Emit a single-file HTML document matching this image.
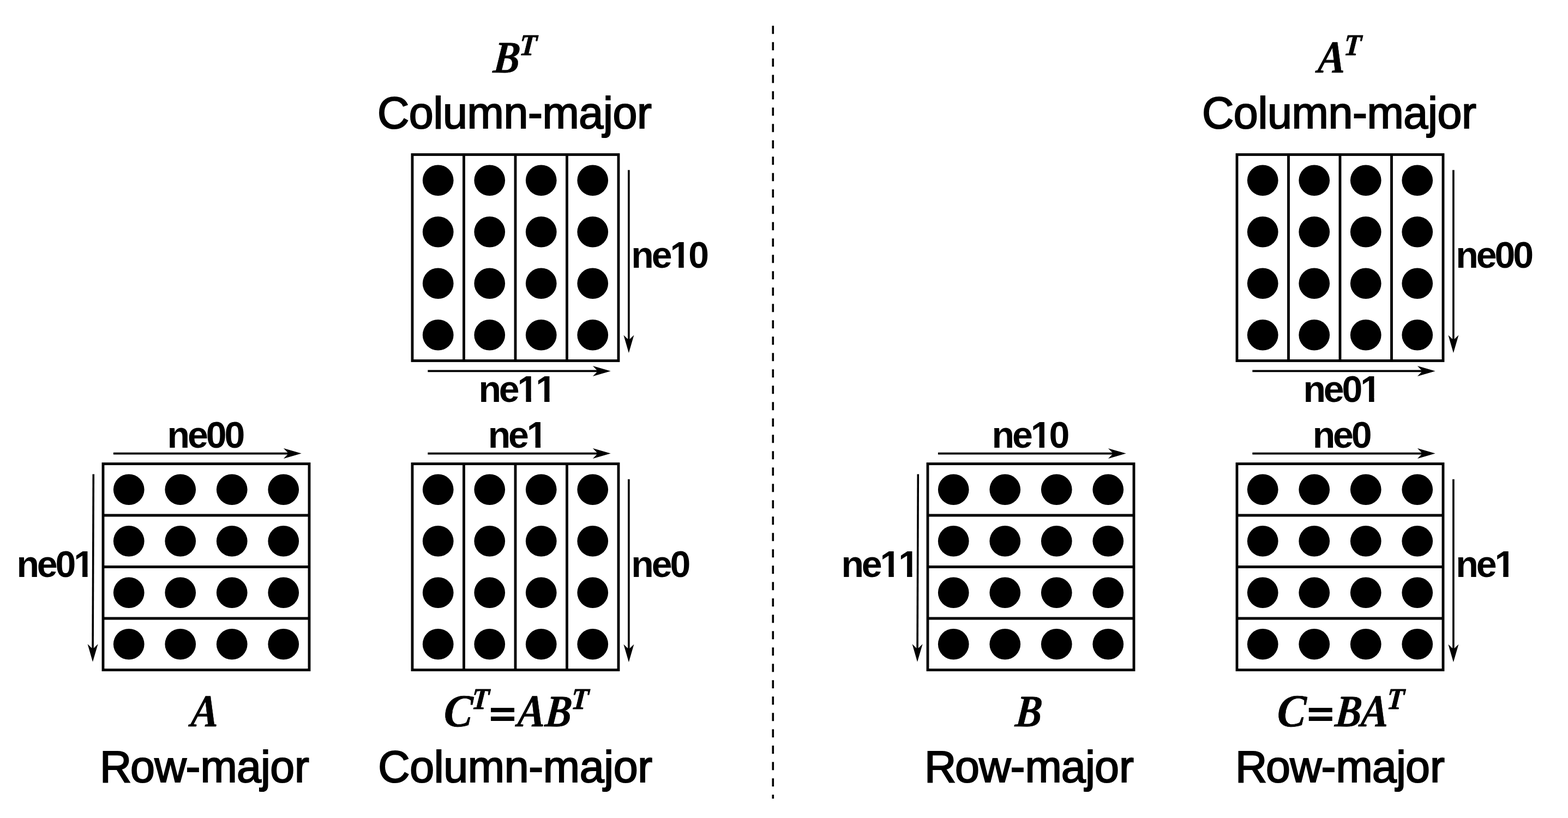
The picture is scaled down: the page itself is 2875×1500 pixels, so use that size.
<!DOCTYPE html>
<html lang="en">
<head>
<meta charset="utf-8">
<title>Matrix layout: row-major and column-major</title>
<style>
html,body{margin:0;padding:0;background:#fff}
body{width:2875px;height:1500px;overflow:hidden}
svg{display:block}
text{fill:#000}
.b{font-family:"Liberation Sans","DejaVu Sans",sans-serif;font-weight:700;font-kerning:none;font-size:68px;letter-spacing:-4.1px}
.r{font-family:"Liberation Sans","DejaVu Sans",sans-serif;font-weight:400;font-size:80.8px;letter-spacing:-0.4px;stroke:#000;stroke-width:2.1px;stroke-linejoin:miter}
.m text{font-family:"Liberation Serif","DejaVu Serif",serif;font-style:italic;font-weight:700;stroke-linejoin:round}
.m .eq{font-family:"DejaVu Sans","Liberation Sans",sans-serif;font-style:normal;font-weight:700;font-size:68.7px}
</style>
</head>
<body>
<svg width="2875" height="1500" viewBox="0 0 2875 1500">
<rect width="2875" height="1500" fill="#fff"/>
<g><text class="b" x="1157.31" y="491">ne10</text><text class="b" x="877.41" y="737">ne11</text><text class="b" x="2669.31" y="491">ne00</text><text class="b" x="2389.41" y="737">ne01</text><text class="b" x="306.61" y="821">ne00</text><text class="b" x="30.41" y="1058">ne01</text><text class="b" x="1818.61" y="821">ne10</text><text class="b" x="1542.41" y="1058">ne11</text><text class="b" x="894.66" y="821">ne1</text><text class="b" x="1157.31" y="1058">ne0</text><text class="b" x="2406.66" y="821">ne0</text><text class="b" x="2669.31" y="1058">ne1</text></g>
<g fill="#fff"><rect x="1231.19" y="483.36" width="13.1" height="8.54"/><rect x="1253.72" y="483.36" width="11.9" height="8.54"/><rect x="951.29" y="729.36" width="13.1" height="8.54"/><rect x="973.82" y="729.36" width="11.9" height="8.54"/><rect x="985.01" y="729.36" width="13.1" height="8.54"/><rect x="1007.54" y="729.36" width="11.9" height="8.54"/><rect x="2497.01" y="729.36" width="13.1" height="8.54"/><rect x="2519.54" y="729.36" width="11.9" height="8.54"/><rect x="138.01" y="1050.36" width="13.1" height="8.54"/><rect x="160.54" y="1050.36" width="11.9" height="8.54"/><rect x="1892.49" y="813.36" width="13.1" height="8.54"/><rect x="1915.02" y="813.36" width="11.9" height="8.54"/><rect x="1616.29" y="1050.36" width="13.1" height="8.54"/><rect x="1638.82" y="1050.36" width="11.9" height="8.54"/><rect x="1650.01" y="1050.36" width="13.1" height="8.54"/><rect x="1672.54" y="1050.36" width="11.9" height="8.54"/><rect x="968.54" y="813.36" width="13.1" height="8.54"/><rect x="991.07" y="813.36" width="11.9" height="8.54"/><rect x="2743.19" y="1050.36" width="13.1" height="8.54"/><rect x="2765.72" y="1050.36" width="11.9" height="8.54"/></g>
<path d="M1417.3 47.2V1464.6" stroke="#000" stroke-width="3.6" stroke-dasharray="15 15" fill="none"/>
<g><rect x="756" y="283.5" width="378" height="378" fill="none" stroke="#000" stroke-width="4.85"/><path d="M850.5 283.5V661.5M945 283.5V661.5M1039.5 283.5V661.5" fill="none" stroke="#000" stroke-width="4.85"/><circle cx="803.25" cy="330.75" r="28.35"/><circle cx="897.75" cy="330.75" r="28.35"/><circle cx="992.25" cy="330.75" r="28.35"/><circle cx="1086.75" cy="330.75" r="28.35"/><circle cx="803.25" cy="425.25" r="28.35"/><circle cx="897.75" cy="425.25" r="28.35"/><circle cx="992.25" cy="425.25" r="28.35"/><circle cx="1086.75" cy="425.25" r="28.35"/><circle cx="803.25" cy="519.75" r="28.35"/><circle cx="897.75" cy="519.75" r="28.35"/><circle cx="992.25" cy="519.75" r="28.35"/><circle cx="1086.75" cy="519.75" r="28.35"/><circle cx="803.25" cy="614.25" r="28.35"/><circle cx="897.75" cy="614.25" r="28.35"/><circle cx="992.25" cy="614.25" r="28.35"/><circle cx="1086.75" cy="614.25" r="28.35"/></g>
<g><rect x="189" y="850.5" width="378" height="378" fill="none" stroke="#000" stroke-width="4.85"/><path d="M189 945H567M189 1039.5H567M189 1134H567" fill="none" stroke="#000" stroke-width="4.85"/><circle cx="236.25" cy="897.75" r="28.35"/><circle cx="330.75" cy="897.75" r="28.35"/><circle cx="425.25" cy="897.75" r="28.35"/><circle cx="519.75" cy="897.75" r="28.35"/><circle cx="236.25" cy="992.25" r="28.35"/><circle cx="330.75" cy="992.25" r="28.35"/><circle cx="425.25" cy="992.25" r="28.35"/><circle cx="519.75" cy="992.25" r="28.35"/><circle cx="236.25" cy="1086.75" r="28.35"/><circle cx="330.75" cy="1086.75" r="28.35"/><circle cx="425.25" cy="1086.75" r="28.35"/><circle cx="519.75" cy="1086.75" r="28.35"/><circle cx="236.25" cy="1181.25" r="28.35"/><circle cx="330.75" cy="1181.25" r="28.35"/><circle cx="425.25" cy="1181.25" r="28.35"/><circle cx="519.75" cy="1181.25" r="28.35"/></g>
<g><rect x="756" y="850.5" width="378" height="378" fill="none" stroke="#000" stroke-width="4.85"/><path d="M850.5 850.5V1228.5M945 850.5V1228.5M1039.5 850.5V1228.5" fill="none" stroke="#000" stroke-width="4.85"/><circle cx="803.25" cy="897.75" r="28.35"/><circle cx="897.75" cy="897.75" r="28.35"/><circle cx="992.25" cy="897.75" r="28.35"/><circle cx="1086.75" cy="897.75" r="28.35"/><circle cx="803.25" cy="992.25" r="28.35"/><circle cx="897.75" cy="992.25" r="28.35"/><circle cx="992.25" cy="992.25" r="28.35"/><circle cx="1086.75" cy="992.25" r="28.35"/><circle cx="803.25" cy="1086.75" r="28.35"/><circle cx="897.75" cy="1086.75" r="28.35"/><circle cx="992.25" cy="1086.75" r="28.35"/><circle cx="1086.75" cy="1086.75" r="28.35"/><circle cx="803.25" cy="1181.25" r="28.35"/><circle cx="897.75" cy="1181.25" r="28.35"/><circle cx="992.25" cy="1181.25" r="28.35"/><circle cx="1086.75" cy="1181.25" r="28.35"/></g>
<g><rect x="2268" y="283.5" width="378" height="378" fill="none" stroke="#000" stroke-width="4.85"/><path d="M2362.5 283.5V661.5M2457 283.5V661.5M2551.5 283.5V661.5" fill="none" stroke="#000" stroke-width="4.85"/><circle cx="2315.25" cy="330.75" r="28.35"/><circle cx="2409.75" cy="330.75" r="28.35"/><circle cx="2504.25" cy="330.75" r="28.35"/><circle cx="2598.75" cy="330.75" r="28.35"/><circle cx="2315.25" cy="425.25" r="28.35"/><circle cx="2409.75" cy="425.25" r="28.35"/><circle cx="2504.25" cy="425.25" r="28.35"/><circle cx="2598.75" cy="425.25" r="28.35"/><circle cx="2315.25" cy="519.75" r="28.35"/><circle cx="2409.75" cy="519.75" r="28.35"/><circle cx="2504.25" cy="519.75" r="28.35"/><circle cx="2598.75" cy="519.75" r="28.35"/><circle cx="2315.25" cy="614.25" r="28.35"/><circle cx="2409.75" cy="614.25" r="28.35"/><circle cx="2504.25" cy="614.25" r="28.35"/><circle cx="2598.75" cy="614.25" r="28.35"/></g>
<g><rect x="1701" y="850.5" width="378" height="378" fill="none" stroke="#000" stroke-width="4.85"/><path d="M1701 945H2079M1701 1039.5H2079M1701 1134H2079" fill="none" stroke="#000" stroke-width="4.85"/><circle cx="1748.25" cy="897.75" r="28.35"/><circle cx="1842.75" cy="897.75" r="28.35"/><circle cx="1937.25" cy="897.75" r="28.35"/><circle cx="2031.75" cy="897.75" r="28.35"/><circle cx="1748.25" cy="992.25" r="28.35"/><circle cx="1842.75" cy="992.25" r="28.35"/><circle cx="1937.25" cy="992.25" r="28.35"/><circle cx="2031.75" cy="992.25" r="28.35"/><circle cx="1748.25" cy="1086.75" r="28.35"/><circle cx="1842.75" cy="1086.75" r="28.35"/><circle cx="1937.25" cy="1086.75" r="28.35"/><circle cx="2031.75" cy="1086.75" r="28.35"/><circle cx="1748.25" cy="1181.25" r="28.35"/><circle cx="1842.75" cy="1181.25" r="28.35"/><circle cx="1937.25" cy="1181.25" r="28.35"/><circle cx="2031.75" cy="1181.25" r="28.35"/></g>
<g><rect x="2268" y="850.5" width="378" height="378" fill="none" stroke="#000" stroke-width="4.85"/><path d="M2268 945H2646M2268 1039.5H2646M2268 1134H2646" fill="none" stroke="#000" stroke-width="4.85"/><circle cx="2315.25" cy="897.75" r="28.35"/><circle cx="2409.75" cy="897.75" r="28.35"/><circle cx="2504.25" cy="897.75" r="28.35"/><circle cx="2598.75" cy="897.75" r="28.35"/><circle cx="2315.25" cy="992.25" r="28.35"/><circle cx="2409.75" cy="992.25" r="28.35"/><circle cx="2504.25" cy="992.25" r="28.35"/><circle cx="2598.75" cy="992.25" r="28.35"/><circle cx="2315.25" cy="1086.75" r="28.35"/><circle cx="2409.75" cy="1086.75" r="28.35"/><circle cx="2504.25" cy="1086.75" r="28.35"/><circle cx="2598.75" cy="1086.75" r="28.35"/><circle cx="2315.25" cy="1181.25" r="28.35"/><circle cx="2409.75" cy="1181.25" r="28.35"/><circle cx="2504.25" cy="1181.25" r="28.35"/><circle cx="2598.75" cy="1181.25" r="28.35"/></g>
<path d="M1152.9 311.85L1152.9 624.58" stroke="#000" stroke-width="3.6" fill="none"/>
<path d="M1152.9 647.18L1143.4 614.38L1152.9 623.58L1162.4 614.38Z"/>
<path d="M784.35 680.4L1097.08 680.4" stroke="#000" stroke-width="3.6" fill="none"/>
<path d="M1119.68 680.4L1086.88 689.9L1096.08 680.4L1086.88 670.9Z"/>
<path d="M2664.9 311.85L2664.9 624.58" stroke="#000" stroke-width="3.6" fill="none"/>
<path d="M2664.9 647.18L2655.4 614.38L2664.9 623.58L2674.4 614.38Z"/>
<path d="M2296.35 680.4L2609.08 680.4" stroke="#000" stroke-width="3.6" fill="none"/>
<path d="M2631.68 680.4L2598.88 689.9L2608.08 680.4L2598.88 670.9Z"/>
<path d="M207.9 831.6L530.08 831.6" stroke="#000" stroke-width="3.6" fill="none"/>
<path d="M552.68 831.6L519.88 841.1L529.08 831.6L519.88 822.1Z"/>
<path d="M171.3 869.4L170.09 1191.13" stroke="#000" stroke-width="3.6" fill="none"/>
<path d="M170 1213.73L160.62 1180.89L170.09 1190.13L179.62 1180.97Z"/>
<path d="M1719.9 831.6L2042.08 831.6" stroke="#000" stroke-width="3.6" fill="none"/>
<path d="M2064.68 831.6L2031.88 841.1L2041.08 831.6L2031.88 822.1Z"/>
<path d="M1683.3 869.4L1682.09 1191.13" stroke="#000" stroke-width="3.6" fill="none"/>
<path d="M1682 1213.73L1672.62 1180.89L1682.09 1190.13L1691.62 1180.97Z"/>
<path d="M784.35 831.6L1097.08 831.6" stroke="#000" stroke-width="3.6" fill="none"/>
<path d="M1119.68 831.6L1086.88 841.1L1096.08 831.6L1086.88 822.1Z"/>
<path d="M1152.9 878.85L1152.9 1191.58" stroke="#000" stroke-width="3.6" fill="none"/>
<path d="M1152.9 1214.18L1143.4 1181.38L1152.9 1190.58L1162.4 1181.38Z"/>
<path d="M2296.35 831.6L2609.08 831.6" stroke="#000" stroke-width="3.6" fill="none"/>
<path d="M2631.68 831.6L2598.88 841.1L2608.08 831.6L2598.88 822.1Z"/>
<path d="M2664.9 878.85L2664.9 1191.58" stroke="#000" stroke-width="3.6" fill="none"/>
<path d="M2664.9 1214.18L2655.4 1181.38L2664.9 1190.58L2674.4 1181.38Z"/>
<text class="r" x="691.93" y="235">Column-major</text>
<text class="r" x="2203.93" y="235">Column-major</text>
<text class="r" x="183.02" y="1434" dx="0 -1.9 -0.2 -0.8 0.4 -0.5 -0.4 -0.4 0.3">Row-major</text>
<text class="r" x="693.23" y="1434">Column-major</text>
<text class="r" x="1694.92" y="1434" dx="0 -1.9 -0.2 -0.8 0.4 -0.5 -0.4 -0.4 0.3">Row-major</text>
<text class="r" x="2264.92" y="1434" dx="0 -1.9 -0.2 -0.8 0.4 -0.5 -0.4 -0.4 0.3">Row-major</text>
<g class="m"><text font-size="82.7" stroke="#000" stroke-width="0.6" transform="matrix(0.875 0 -0.09 1 902.97 133)">B</text><text font-size="55" stroke="#000" stroke-width="0.9" transform="matrix(0.939 0 -0.08 1 951.34 101)">T</text></g>
<g class="m"><text font-size="84.05" stroke="#000" stroke-width="0.6" transform="matrix(0.903 0 -0.05 1 2415.13 133)">A</text><text font-size="55" stroke="#000" stroke-width="0.9" transform="matrix(0.939 0 -0.08 1 2462.94 101)">T</text></g>
<g class="m"><text font-size="84.05" stroke="#000" stroke-width="0.6" transform="matrix(0.903 0 -0.05 1 349.03 1332)">A</text></g>
<g class="m"><text font-size="84.4" stroke="#000" stroke-width="0.6" transform="matrix(0.939 0 -0.05 1 812.84 1332)">C</text><text font-size="55" stroke="#000" stroke-width="0.9" transform="matrix(0.939 0 -0.08 1 863.84 1300)">T</text><text class="eq" x="892.82" y="1332">=</text><text font-size="84.05" stroke="#000" stroke-width="0.6" transform="matrix(0.903 0 -0.05 1 947.93 1332)">A</text><text font-size="82.7" stroke="#000" stroke-width="0.6" transform="matrix(0.875 0 -0.09 1 998.07 1332)">B</text><text font-size="55" stroke="#000" stroke-width="0.9" transform="matrix(0.939 0 -0.08 1 1046.24 1300)">T</text></g>
<g class="m"><text font-size="82.7" stroke="#000" stroke-width="0.6" transform="matrix(0.875 0 -0.09 1 1860.37 1332)">B</text></g>
<g class="m"><text font-size="84.4" stroke="#000" stroke-width="0.6" transform="matrix(0.939 0 -0.05 1 2340.64 1332)">C</text><text class="eq" x="2392.42" y="1332">=</text><text font-size="82.7" stroke="#000" stroke-width="0.6" transform="matrix(0.875 0 -0.09 1 2446.57 1332)">B</text><text font-size="84.05" stroke="#000" stroke-width="0.6" transform="matrix(0.903 0 -0.05 1 2494.33 1332)">A</text><text font-size="55" stroke="#000" stroke-width="0.9" transform="matrix(0.939 0 -0.08 1 2541.74 1300)">T</text></g>
</svg>
</body>
</html>
